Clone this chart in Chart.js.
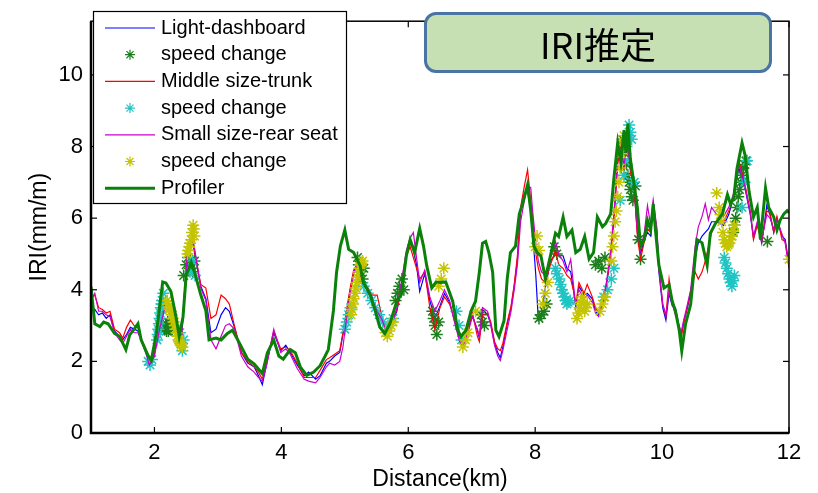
<!DOCTYPE html>
<html>
<head>
<meta charset="utf-8">
<script src="https://cdn.jsdelivr.net/npm/chart.js@4/dist/chart.umd.min.js"></script>
<style>
  html, body { margin: 0; padding: 0; background: #fff; }
  #wrap { position: relative; width: 818px; height: 493px; }
  #tag {
    position: absolute; left: 424px; top: 12px; width: 342px; height: 55px;
    background: #c6e0b4; border: 3px solid #4a74a4; border-radius: 12px;
    display: flex; align-items: center; justify-content: center;
    font-family: "Noto Sans CJK JP", "Noto Sans", sans-serif; font-size: 36px; color: #000;
  }
</style>
</head>
<body>
<div id="wrap">
  <canvas id="c" width="818" height="493"></canvas>
  <div id="tag">IRI推定</div>
</div>
<script>
// Distance axis ticks (km) and IRI axis ticks (mm/m)
const xTicks = [2, 4, 6, 8, 10, 12];
const yTicks = [0, 2, 4, 6, 8, 10];

// Vehicle estimates share one distance grid (km)
const vehKm = [
  1.00,1.06,1.12,1.18,1.24,1.30,1.37,1.45,1.50,1.56,
  1.62,1.68,1.74,1.80,1.86,1.92,2.00,2.08,2.18,2.26,
  2.37,2.42,2.47,2.52,2.60,2.66,2.73,2.81,2.89,2.97,
  3.05,3.12,3.18,3.26,3.37,3.47,3.57,3.64,3.70,3.77,
  3.88,3.99,4.07,4.14,4.25,4.36,4.43,4.54,4.61,4.71,
  4.76,4.84,4.92,4.97,5.02,5.08,5.14,5.19,5.27,5.35,
  5.43,5.51,5.59,5.66,5.74,5.82,5.89,5.97,6.03,6.08,
  6.13,6.18,6.26,6.34,6.42,6.50,6.57,6.65,6.72,6.81,
  6.86,6.94,7.01,7.09,7.12,7.17,7.25,7.30,7.36,7.41,
  7.45,7.49,7.56,7.62,7.67,7.72,7.77,7.83,7.88,7.93,
  7.96,8.01,8.05,8.10,8.16,8.24,8.32,8.37,8.44,8.50,
  8.56,8.60,8.64,8.69,8.77,8.82,8.90,8.95,9.00,9.08,
  9.13,9.18,9.24,9.30,9.35,9.40,9.45,9.50,9.56,9.61,
  9.66,9.72,9.77,9.82,9.86,9.92,9.95,10.01,10.06,10.11,
  10.16,10.21,10.27,10.30,10.34,10.40,10.45,10.52,10.57,10.63,
  10.68,10.73,10.78,10.86,10.97,11.05,11.13,11.21,11.26,11.31,
  11.39,11.44,11.50,11.57,11.65,11.70,11.76,11.81,11.89,11.94,
  12.00
];

// Light vehicle, sensor on the dashboard
const lightDash = [
  3.55,3.45,3.3,3.35,3.2,3.3,2.85,2.7,2.6,2.75,
  2.95,2.9,2.85,2.6,2.3,1.95,2.2,3.0,3.65,3.4,
  2.85,2.5,3.8,4.95,5.35,4.75,4.1,3.75,2.8,2.9,
  3.3,3.5,3.4,2.95,2.25,1.95,1.85,1.6,1.35,1.95,
  2.8,2.3,2.45,2.25,1.9,1.6,1.7,1.5,1.6,1.95,
  2.0,2.15,2.25,2.75,3.3,3.95,4.5,4.65,4.25,4.05,
  3.8,3.3,3.1,2.85,3.05,3.4,4.05,5.0,5.35,5.1,
  4.7,3.95,4.45,3.7,3.2,3.55,3.9,3.65,3.2,2.6,
  2.5,2.85,3.3,2.85,2.65,3.45,3.3,3.05,2.5,2.25,
  2.1,2.4,3.05,3.5,4.1,4.85,6.2,6.7,6.75,6.2,
  5.6,4.4,3.15,3.3,4.05,4.8,5.0,4.95,4.95,4.6,
  4.5,4.05,3.5,4.1,3.85,3.9,3.75,3.4,3.3,3.75,
  4.2,4.85,6.0,7.6,8.0,7.4,8.1,7.4,6.8,5.6,
  5.0,5.4,5.6,5.5,6.4,5.6,4.5,3.5,3.15,3.9,
  3.55,3.5,2.95,2.75,3.1,3.5,3.9,4.9,5.3,5.5,
  5.6,5.7,5.9,5.9,5.8,6.1,6.6,7.4,7.1,6.8,
  6.1,5.45,5.85,5.3,6.35,6.1,5.6,6.0,5.5,5.4,
  4.7
];

// Middle size car, sensor in the trunk
const middleTrunk = [
  3.8,3.85,3.5,3.45,3.35,3.4,2.9,2.8,2.65,2.95,
  3.15,3.0,2.95,2.6,2.35,2.0,2.25,3.1,3.7,3.45,
  2.9,2.55,3.85,5.0,5.4,4.8,4.15,4.05,3.2,3.3,
  3.85,3.75,3.6,3.0,2.25,2.0,1.85,1.7,1.5,2.0,
  2.85,2.35,2.4,2.3,1.95,1.55,1.55,1.55,1.75,2.05,
  2.1,2.2,2.3,2.8,3.35,4.0,4.55,4.7,4.2,4.1,
  3.85,3.85,3.2,2.9,3.1,3.45,4.0,4.95,5.2,4.9,
  4.6,4.3,4.5,3.5,2.9,3.5,3.8,3.6,3.25,2.65,
  2.55,2.9,3.35,2.7,2.55,3.3,3.35,3.1,2.55,2.35,
  2.3,2.5,3.1,3.55,4.15,4.95,6.3,6.9,7.35,6.5,
  6.0,5.0,4.6,4.3,4.2,4.7,5.1,4.7,4.6,4.4,
  4.3,4.0,3.6,4.2,3.9,4.15,3.8,3.5,3.35,3.8,
  4.25,4.8,5.9,7.5,8.1,7.3,8.2,7.3,6.85,5.5,
  4.85,5.35,5.7,5.6,6.45,5.5,4.6,3.6,3.25,4.3,
  3.65,3.45,2.85,2.65,3.05,3.55,3.95,4.5,4.3,4.5,
  4.8,5.2,5.6,5.9,5.9,6.2,6.55,7.6,7.25,6.9,
  6.2,5.4,5.8,5.35,6.2,6.15,5.6,6.05,5.4,5.35,
  4.65
];

// Small car, sensor on the rear seat
const smallRear = [
  3.7,3.9,3.4,3.4,3.3,3.25,2.8,2.6,2.5,2.7,
  2.9,2.8,2.8,2.55,2.25,1.9,2.15,2.9,3.6,3.35,
  2.8,2.45,3.7,5.1,5.5,4.85,4.05,3.7,2.6,2.35,
  2.7,3.0,3.05,2.9,2.15,1.85,1.7,1.55,1.45,1.9,
  2.9,2.25,2.35,2.2,1.8,1.5,1.45,1.4,1.55,1.85,
  1.95,1.9,2.0,2.4,3.1,3.8,4.45,4.7,4.3,4.0,
  3.7,3.4,3.15,2.8,3.0,3.5,4.2,5.1,5.45,5.6,
  4.9,4.2,4.55,3.8,3.4,3.7,4.0,3.7,3.15,2.55,
  2.4,2.8,3.25,2.9,2.7,3.5,3.4,3.0,2.45,2.15,
  2.02,2.3,2.9,3.4,4.0,4.7,5.9,6.5,6.9,6.85,
  6.2,5.3,4.8,4.5,4.4,4.9,5.35,5.0,4.8,4.5,
  4.85,4.2,3.55,4.0,3.75,3.85,3.65,3.35,3.25,3.7,
  4.3,4.95,6.1,7.7,7.9,7.5,8.0,7.5,6.9,5.7,
  5.1,5.6,6.35,5.8,6.5,5.7,4.6,3.6,3.3,3.95,
  3.6,3.3,3.0,2.8,3.15,3.6,4.0,5.2,5.75,6.05,
  6.4,5.95,6.3,6.1,6.05,6.3,6.7,7.5,7.2,6.85,
  6.15,5.5,5.9,5.4,6.1,6.0,5.7,5.95,5.55,5.3,
  4.6
];

// Reference profiler measurement
const profilerKm = [
  1.00,1.06,1.14,1.20,1.27,1.37,1.45,1.55,1.61,1.68,1.74,1.79,1.90,1.95,2.03,2.13,2.18,2.26,2.34,2.39,
  2.45,2.50,2.58,2.63,2.73,2.81,2.86,2.97,3.05,3.15,3.23,3.34,3.47,3.57,3.70,3.78,3.88,3.96,4.03,4.14,
  4.22,4.30,4.40,4.51,4.61,4.69,4.74,4.82,4.87,4.93,5.00,5.06,5.14,5.24,5.29,5.40,5.48,5.55,5.63,5.71,
  5.82,5.89,5.97,6.03,6.10,6.18,6.24,6.29,6.37,6.44,6.50,6.59,6.70,6.78,6.83,6.91,6.99,7.06,7.12,7.17,
  7.22,7.27,7.33,7.38,7.43,7.51,7.56,7.61,7.69,7.75,7.80,7.88,7.93,7.98,8.03,8.09,8.16,8.24,8.32,8.37,
  8.44,8.50,8.58,8.64,8.71,8.78,8.85,8.92,8.98,9.06,9.11,9.19,9.24,9.30,9.35,9.40,9.43,9.46,9.50,9.56,
  9.61,9.66,9.72,9.77,9.82,9.86,9.90,9.95,10.03,10.11,10.16,10.21,10.27,10.31,10.37,10.45,10.50,10.55,10.63,10.71,
  10.76,10.84,10.95,11.03,11.08,11.13,11.18,11.26,11.31,11.37,11.44,11.50,11.55,11.63,11.68,11.76,11.81,11.86,11.92,11.97,
  12.00
];
const profilerIri = [
  4.09,3.05,2.97,3.10,3.05,2.78,2.70,2.33,2.74,2.90,3.05,2.60,2.16,2.03,2.78,4.22,4.19,3.95,3.24,2.70,
  3.24,4.40,4.77,4.50,3.86,3.41,2.60,2.65,2.60,2.78,2.87,2.51,2.06,1.93,1.66,2.24,2.60,2.15,2.06,2.33,
  2.24,1.84,1.61,1.70,1.88,2.15,2.33,3.41,4.49,5.22,5.67,5.13,5.04,4.68,4.22,3.86,3.41,2.96,2.78,3.05,
  3.68,3.86,4.95,5.40,5.04,5.71,5.22,4.68,4.05,4.22,4.20,4.22,3.68,2.87,2.69,2.87,3.41,3.68,4.49,5.30,
  5.35,5.04,4.49,2.87,2.69,3.14,4.32,5.04,5.22,6.12,6.39,6.93,6.21,5.22,5.04,4.95,4.32,4.95,5.58,5.49,
  6.03,5.49,5.67,5.04,5.13,5.49,4.86,5.04,6.03,5.76,5.85,6.12,7.10,8.10,7.56,8.46,7.83,8.64,7.65,6.93,
  6.30,5.22,5.40,5.94,5.67,6.39,5.58,4.68,4.05,4.14,3.68,3.41,2.87,2.29,3.05,3.59,4.49,5.40,5.31,4.68,
  5.58,5.85,6.12,6.66,6.39,6.57,7.38,8.10,7.74,6.75,6.03,6.30,5.40,6.84,6.30,6.03,5.67,5.94,6.12,6.21,
  6.15
];

// Sections where the vehicle speed changed
const lightSpeedKm = [
  2.14,2.15,2.16,2.18,2.19,2.20,2.21,2.22,2.23,2.24,2.25,2.26,2.27,2.28,
  2.46,2.50,2.53,2.56,2.60,2.63,
  5.20,5.22,5.25,5.28,5.30,
  5.80,5.83,5.86,5.90,5.93,
  6.38,6.40,6.42,6.45,6.48,
  7.15,7.17,7.20,
  8.06,8.10,8.14,8.18,8.30,8.34,
  8.95,9.00,9.05,9.10,
  9.38,9.40,9.42,9.44,9.46,9.48,9.50,9.52,9.54,9.58,9.63,9.66,
  11.12,11.14,11.16,11.18,11.20,11.22,11.24,11.26,11.28,11.30,11.32,
  11.66
];
const lightSpeedIri = [
  3.00,2.95,2.90,3.05,2.85,2.95,3.10,2.85,2.92,3.00,3.05,2.90,2.88,2.95,
  4.40,4.70,4.90,4.60,4.50,4.80,
  4.90,4.70,4.50,4.30,4.60,
  3.70,3.90,4.10,4.30,4.00,
  3.40,3.20,3.00,2.75,3.10,
  3.30,3.10,3.00,
  3.20,3.30,3.40,3.60,5.20,5.00,
  4.70,4.80,4.60,4.90,
  8.20,8.00,7.80,7.50,7.20,7.00,6.80,6.60,6.50,6.90,5.40,4.85,
  5.60,5.80,6.00,6.30,6.60,6.80,7.00,7.20,7.40,7.50,7.60,
  5.35
];

const middleSpeedKm = [
  1.90,1.93,1.96,
  2.04,2.05,2.06,2.07,2.08,2.09,2.10,2.11,2.12,2.14,
  2.40,2.42,2.44,2.46,
  2.56,2.60,2.64,
  5.00,5.03,5.06,5.09,
  5.30,5.36,5.42,5.48,5.54,5.60,5.68,5.76,
  6.76,6.80,6.84,
  8.32,8.34,8.38,8.40,8.42,8.44,8.46,8.48,8.50,8.52,8.55,
  9.08,9.14,9.20,9.24,
  9.34,9.40,9.42,9.44,9.46,9.48,9.50,9.52,9.56,
  10.98,11.00,11.02,11.04,11.06,11.08,11.10,11.12,11.14,
  11.26,11.30,11.34
];
const middleSpeedIri = [
  2.00,1.90,2.05,
  2.60,2.75,2.90,3.05,3.20,3.35,3.50,3.60,3.70,3.90,
  2.80,2.50,2.30,2.60,
  4.50,4.80,4.40,
  2.90,3.10,3.30,3.50,
  4.10,3.90,3.70,3.50,3.30,3.10,3.00,3.20,
  3.40,3.00,2.60,
  4.60,4.45,4.30,4.15,4.00,3.90,3.80,3.70,3.60,3.65,3.70,
  3.80,4.00,4.30,4.60,
  6.50,7.20,7.60,8.00,8.30,8.60,8.40,8.20,7.00,
  4.90,4.75,4.60,4.45,4.30,4.20,4.10,4.25,4.40,
  6.30,7.00,7.60
];

const smallSpeedKm = [
  2.20,2.21,2.23,2.24,2.26,2.27,2.29,2.30,2.32,2.33,2.35,2.36,2.38,2.39,2.41,2.42,2.44,
  2.52,2.53,2.55,2.56,2.58,2.59,2.61,2.62,2.63,
  5.10,5.11,5.13,5.14,5.16,5.17,5.19,5.20,5.22,5.23,5.25,5.26,5.28,
  5.64,5.67,5.70,5.73,5.76,
  6.48,6.52,6.56,
  6.86,6.90,6.94,
  7.06,
  8.00,8.03,8.06,
  8.12,8.16,8.20,
  8.66,8.68,8.70,8.72,8.74,8.76,8.78,8.80,8.82,
  9.02,9.06,9.10,
  9.20,9.22,9.24,9.26,9.28,9.30,9.32,9.34,9.36,9.38,9.40,
  10.86,10.90,10.92,10.94,10.96,10.98,11.00,11.02,11.04,11.06,11.08,11.10,11.12,11.14,
  12.00
];
const smallSpeedIri = [
  3.70,3.60,3.50,3.45,3.40,3.30,3.20,3.10,3.00,2.90,2.80,2.70,2.60,2.55,2.50,2.45,2.40,
  5.00,5.10,5.20,5.30,5.40,5.60,5.80,5.70,5.50,
  3.30,3.45,3.60,3.75,3.90,4.05,4.20,4.35,4.50,4.60,4.70,4.75,4.80,
  2.80,2.70,2.85,3.00,3.10,
  4.10,4.30,4.60,
  2.40,2.60,2.80,
  3.40,
  5.20,5.50,5.10,
  3.60,3.90,4.20,
  3.20,3.35,3.50,3.65,3.80,3.60,3.40,3.50,3.60,
  3.40,3.60,3.80,
  4.80,5.20,5.50,5.90,6.20,6.60,7.00,7.40,7.80,8.10,8.30,
  6.70,6.30,6.10,5.90,5.60,5.40,5.30,5.20,5.25,5.30,5.40,5.50,5.65,5.80,
  4.85
];

const seriesLabels = ['Light-dashboard', 'speed change', 'Middle size-trunk', 'speed change',
                      'Small size-rear seat', 'speed change', 'Profiler'];

const pts = (xs, ys) => xs.map((x, i) => ({ x: x, y: ys[i] }));
const FONT = '"Liberation Sans", Arial, sans-serif';

function lineSet(label, xs, ys, color, width, order) {
  return { label, data: pts(xs, ys), borderColor: color, backgroundColor: color,
           borderWidth: width, pointRadius: 0, tension: 0, showLine: true, order };
}
function starSet(label, xs, ys, color, order) {
  return { label, data: pts(xs, ys), borderColor: color, backgroundColor: color,
           showLine: false, pointStyle: 'star', pointRadius: 6, pointBorderWidth: 1.5, order };
}

// Box frame with inward tick marks on all four sides
const frame = {
  id: 'frame',
  afterDatasetsDraw(chart) {
    const { ctx, chartArea: a, scales: { x, y } } = chart;
    const seg = (x1, y1, x2, y2) => { ctx.beginPath(); ctx.moveTo(x1, y1); ctx.lineTo(x2, y2); ctx.stroke(); };
    ctx.save();
    ctx.strokeStyle = '#000';
    ctx.lineWidth = 1.5;
    ctx.strokeRect(a.left, a.top, a.right - a.left, a.bottom - a.top);
    ctx.lineWidth = 2.5;
    ctx.beginPath(); ctx.moveTo(a.left, a.top); ctx.lineTo(a.left, a.bottom); ctx.lineTo(a.right, a.bottom); ctx.stroke();
    ctx.lineWidth = 1.2;
    const t = 6;
    x.ticks.forEach(tk => { const p = x.getPixelForValue(tk.value); seg(p, a.bottom, p, a.bottom - t); seg(p, a.top, p, a.top + t); });
    y.ticks.forEach(tk => { const p = y.getPixelForValue(tk.value); seg(a.left, p, a.left + t, p); seg(a.right, p, a.right - t, p); });
    ctx.restore();
  }
};

// Legend box in the upper-left corner of the plot
const boxLegend = {
  id: 'boxLegend',
  afterDraw(chart) {
    const ctx = chart.ctx;
    const L = 93, T = 11, R = 346, B = 203;
    ctx.save();
    ctx.fillStyle = '#fff';
    ctx.fillRect(L, T, R - L, B - T);
    ctx.strokeStyle = '#000';
    ctx.lineWidth = 1.2;
    ctx.strokeRect(L + 0.5, T + 0.5, R - L, B - T);
    ctx.font = '20px ' + FONT;
    ctx.textBaseline = 'middle';
    chart.data.datasets.forEach((ds, i) => {
      const yy = 28 + i * 26.7;
      ctx.strokeStyle = ds.borderColor;
      ctx.fillStyle = ds.borderColor;
      if (ds.showLine) {
        ctx.lineWidth = ds.borderWidth;
        ctx.beginPath(); ctx.moveTo(105, yy); ctx.lineTo(155, yy); ctx.stroke();
      } else {
        ctx.lineWidth = 1.2;
        Chart.helpers.drawPoint(ctx, { pointStyle: 'star', radius: 5, borderWidth: 1.2, rotation: 0 }, 130, yy);
      }
      ctx.fillStyle = '#000';
      ctx.fillText(ds.label, 161, yy);
    });
    ctx.restore();
  }
};

new Chart(document.getElementById('c'), {
  type: 'line',
  data: {
    datasets: [
      lineSet(seriesLabels[0], vehKm, lightDash, '#0000ff', 1.2, 6),
      starSet(seriesLabels[1], lightSpeedKm, lightSpeedIri, '#1b7f1b', 5),
      lineSet(seriesLabels[2], vehKm, middleTrunk, '#ff0000', 1.2, 4),
      starSet(seriesLabels[3], middleSpeedKm, middleSpeedIri, '#1fc4c4', 3),
      lineSet(seriesLabels[4], vehKm, smallRear, '#cc00cc', 1.2, 2),
      starSet(seriesLabels[5], smallSpeedKm, smallSpeedIri, '#c4c400', 1),
      lineSet(seriesLabels[6], profilerKm, profilerIri, '#0a820a', 3, 0)
    ]
  },
  options: {
    responsive: false,
    animation: false,
    devicePixelRatio: 1,
    layout: { padding: { left: 0, right: 29, top: 9, bottom: 0 } },
    plugins: { legend: { display: false }, tooltip: { enabled: false } },
    scales: {
      x: {
        type: 'linear', min: 1, max: 12,
        afterBuildTicks: s => { s.ticks = xTicks.map(v => ({ value: v })); },
        afterFit: s => { s.height = 60; },
        grid: { display: false, drawTicks: false },
        border: { display: false },
        ticks: { color: '#000', font: { family: FONT, size: 22 }, padding: 7, maxRotation: 0 },
        title: { display: true, text: 'Distance(km)', color: '#000',
                 font: { family: FONT, size: 23 }, padding: { top: 0, bottom: 0 } }
      },
      y: {
        type: 'linear', min: 0, max: 11.5,
        afterBuildTicks: s => { s.ticks = yTicks.map(v => ({ value: v })); },
        afterFit: s => { s.width = 91; },
        grid: { display: false, drawTicks: false },
        border: { display: false },
        ticks: { color: '#000', font: { family: FONT, size: 22 }, padding: 8 },
        title: { display: true, text: 'IRI(mm/m)', color: '#000',
                 font: { family: FONT, size: 23 }, padding: { top: 26, bottom: 0 } }
      }
    }
  },
  plugins: [frame, boxLegend]
});
</script>
</body>
</html>
